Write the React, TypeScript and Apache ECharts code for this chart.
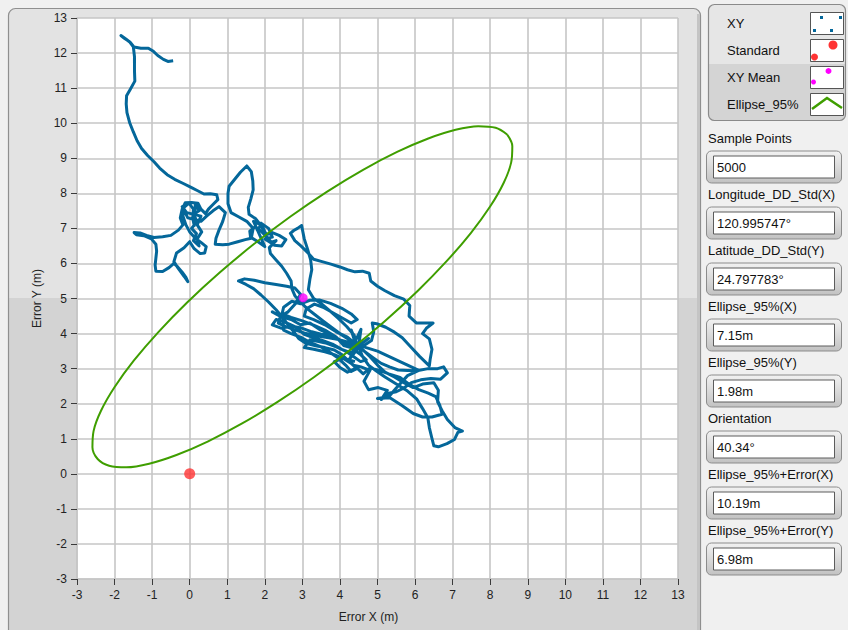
import React, { useEffect, useRef } from 'react';
import * as echarts from 'echarts';

// ---- data ----
const trajectory: number[][] = [
  [-0.44, 11.78], [-0.58, 11.76], [-0.7, 11.82], [-0.85, 11.93], [-0.98, 12.06], [-1.1, 12.14], [-1.3, 12.14], [-1.48, 12.17],
  [-1.58, 12.3], [-1.7, 12.4], [-1.83, 12.5], [-1.74, 12.42], [-1.6, 12.32], [-1.5, 12.18], [-1.47, 11.9], [-1.47, 11.5],
  [-1.46, 11.2], [-1.58, 10.97], [-1.68, 10.78], [-1.69, 10.55], [-1.67, 10.3], [-1.6, 10.02], [-1.5, 9.75], [-1.4, 9.5],
  [-1.28, 9.28], [-1.12, 9.08], [-0.95, 8.9], [-0.8, 8.72], [-0.6, 8.53], [-0.4, 8.4], [-0.17, 8.28], [0.05, 8.16],
  [0.2, 8.08], [0.38, 7.98], [0.55, 7.99], [0.72, 7.96], [0.75, 7.82], [0.62, 7.68], [0.5, 7.55], [0.42, 7.42],
  [0.3, 7.55], [0.22, 7.72], [0.05, 7.74], [-0.12, 7.73], [-0.2, 7.55], [-0.25, 7.3], [-0.18, 7.1], [-0.3, 6.95],
  [-0.5, 6.8], [-0.72, 6.76], [-0.95, 6.74], [-1.15, 6.8], [-1.32, 6.87], [-1.48, 6.88], [-1.42, 6.82], [-1.22, 6.79],
  [-1.02, 6.7], [-0.9, 6.55], [-0.88, 6.35], [-0.9, 6.15], [-0.92, 5.95], [-0.9, 5.78], [-0.72, 5.77], [-0.55, 5.88],
  [-0.42, 6.0], [-0.32, 5.9], [-0.2, 5.75], [-0.1, 5.6], [-0.05, 5.48], [-0.14, 5.62], [-0.3, 5.85], [-0.42, 6.05],
  [-0.35, 6.3], [-0.15, 6.45], [0.0, 6.62], [0.12, 6.42], [0.28, 6.28], [0.4, 6.3], [0.44, 6.48], [0.3, 6.6],
  [0.15, 6.72], [0.0, 6.9], [-0.1, 7.1], [-0.18, 7.35], [-0.15, 7.6], [-0.02, 7.72], [0.1, 7.55], [0.08, 7.3], [0.12, 7.08],
  [0.15, 7.7], [0.25, 7.5], [0.1, 7.4], [0.2, 7.2], [0.05, 7.0], [0.18, 6.85], [0.1, 6.65], [0.25, 6.5],
  [0.2, 6.7], [0.32, 6.9], [0.2, 7.1], [0.3, 7.35], [-0.08, 7.45], [-0.2, 7.62], [-0.05, 7.3],
  [0.3, 7.2], [0.45, 7.35], [0.62, 7.5], [0.78, 7.62], [0.95, 7.45], [0.88, 7.2], [0.78, 6.95], [0.7, 6.72],
  [0.68, 6.55], [0.88, 6.53], [1.05, 6.55], [1.28, 6.62], [1.48, 6.68], [1.64, 6.72], [1.69, 7.0], [1.52, 7.2],
  [1.3, 7.33], [1.1, 7.45], [1.02, 7.7], [1.02, 8.0], [1.05, 8.2], [1.2, 8.4], [1.35, 8.6], [1.52, 8.78],
  [1.64, 8.62], [1.68, 8.35], [1.69, 8.1], [1.63, 7.85], [1.56, 7.6], [1.58, 7.4], [1.75, 7.28], [1.85, 7.15],
  [1.95, 6.98], [2.05, 6.82], [2.2, 6.88], [2.38, 6.8], [2.56, 6.68], [2.45, 6.5], [2.25, 6.52], [2.1, 6.7],
  [1.92, 6.9], [1.75, 7.05], [1.6, 6.92], [1.62, 6.75], [1.82, 6.62], [2.0, 6.48],
  [1.7, 7.2], [1.9, 7.1], [1.8, 6.95], [2.0, 6.9], [1.9, 7.15], [2.1, 7.0], [2.2, 6.75], [2.0, 6.7],
  [2.15, 6.6], [2.3, 6.65], [2.12, 6.45],
  [2.15, 6.28], [2.3, 6.1], [2.45, 5.92], [2.58, 5.72], [2.7, 5.5], [2.72, 5.28], [2.8, 5.08], [2.95, 4.9],
  [3.12, 4.72], [3.32, 4.55], [3.55, 4.36], [3.8, 4.16], [4.05, 3.96], [4.28, 3.8], [4.45, 3.68], [4.58, 3.55],
  [4.72, 3.44], [4.9, 3.3], [5.1, 3.15], [5.32, 3.05], [5.55, 2.96], [5.8, 2.95], [6.05, 2.94], [6.35, 3.0],
  [6.6, 3.0], [6.76, 3.05], [6.86, 2.88], [6.68, 2.7], [6.42, 2.72], [6.15, 2.68], [5.9, 2.6], [5.72, 2.46],
  [5.5, 2.34], [5.3, 2.3], [5.1, 2.12], [5.26, 2.38], [5.02, 2.46], [4.76, 2.4], [4.64, 2.64], [4.8, 2.95],
  [4.56, 3.05], [4.36, 3.1], [4.2, 3.25], [4.05, 3.4], [3.85, 3.53], [3.6, 3.6], [3.35, 3.65], [3.1, 3.72],
  [2.9, 3.86], [2.75, 4.08], [2.6, 4.28], [2.48, 4.45],
  [2.2, 4.62], [2.45, 4.48], [2.7, 4.4], [2.95, 4.25], [3.2, 4.3], [3.45, 4.12], [3.7, 4.0], [3.95, 3.85],
  [4.2, 3.68], [4.45, 3.62], [4.3, 3.45], [4.05, 3.55], [3.8, 3.7], [3.55, 3.8], [3.3, 3.88], [3.05, 3.98],
  [2.8, 4.2], [2.55, 4.32], [2.3, 4.4], [2.2, 4.25], [2.45, 4.15], [2.7, 4.22], [3.0, 4.15], [3.25, 4.05],
  [3.5, 3.98], [3.8, 3.95], [4.1, 3.75], [4.35, 3.55], [4.55, 3.4], [4.7, 3.25], [4.55, 3.2], [4.35, 3.35],
  [4.15, 3.5], [3.9, 3.62], [3.65, 3.72], [3.4, 3.78], [3.2, 3.82], [3.05, 3.6], [3.3, 3.55], [3.6, 3.48],
  [3.85, 3.4], [4.1, 3.28], [4.3, 3.15], [4.45, 3.0], [4.3, 2.92], [4.15, 3.1], [3.95, 3.3], [3.75, 3.45],
  [3.5, 3.62], [3.2, 3.75], [2.95, 3.9], [2.7, 4.0], [2.5, 4.1], [2.48, 4.45],
  [2.3, 4.68], [2.1, 4.9], [1.9, 5.1], [1.7, 5.28], [1.5, 5.4], [1.3, 5.5], [1.46, 5.56], [1.72, 5.52],
  [2.0, 5.45], [2.3, 5.4], [2.58, 5.35], [2.8, 5.3], [2.95, 5.12], [2.82, 4.86], [2.62, 4.62], [2.42, 4.5],
  [2.36, 4.3], [2.56, 4.2], [2.82, 4.1], [3.1, 4.0], [3.4, 3.93], [3.7, 3.88], [4.0, 3.82], [4.25, 3.75], [4.45, 3.7],
  [4.38, 3.95], [4.18, 4.2], [3.95, 4.44], [3.74, 4.64], [3.52, 4.84], [3.3, 5.0], [3.16, 5.25], [3.2, 5.55],
  [3.25, 5.82], [3.22, 6.1], [3.14, 6.4], [3.05, 6.7], [2.98, 7.08], [2.87, 7.0], [2.77, 6.94], [2.68, 6.86],
  [2.8, 6.65], [2.96, 6.5], [3.15, 6.3], [3.3, 6.12], [3.5, 6.06], [3.76, 5.98], [4.0, 5.9], [4.2, 5.82],
  [4.4, 5.76], [4.6, 5.78], [4.78, 5.72], [4.82, 5.5], [5.0, 5.35], [5.2, 5.22], [5.45, 5.08], [5.7, 4.98],
  [5.86, 4.8], [5.84, 4.5], [6.04, 4.3], [6.28, 4.3], [6.48, 4.3], [6.3, 4.15], [6.2, 4.0], [6.38, 3.85],
  [6.45, 3.55], [6.4, 3.25], [6.38, 3.08], [6.12, 3.35], [5.9, 3.6], [5.66, 3.88], [5.45, 4.04], [5.22, 4.18],
  [4.98, 4.28], [4.86, 4.3], [4.9, 4.05], [4.84, 3.8], [4.64, 3.66], [4.46, 3.72],
  [4.6, 3.35], [4.76, 3.1], [4.96, 2.94], [5.2, 2.76], [5.5, 2.56], [5.8, 2.36], [6.04, 2.14], [6.2, 1.86],
  [6.34, 1.6], [6.38, 1.32], [6.44, 1.05], [6.5, 0.8], [6.62, 0.77], [6.85, 0.86], [7.05, 0.98], [7.14, 1.18],
  [7.26, 1.22], [7.06, 1.32], [6.86, 1.55], [6.72, 1.8], [6.6, 2.05], [6.62, 2.38], [6.5, 2.6], [6.2, 2.56],
  [5.95, 2.46], [5.7, 2.6], [5.45, 2.76], [5.2, 2.9], [5.0, 3.1], [4.8, 3.34], [4.6, 3.55], [4.45, 3.72],
  [4.3, 4.1], [4.4, 3.76], [4.56, 4.12], [4.5, 3.66], [4.76, 3.86], [4.42, 3.6], [4.26, 3.28], [4.46, 3.55],
  [4.1, 3.66], [3.9, 3.9], [3.6, 4.1], [3.3, 4.24], [3.0, 4.36], [2.7, 4.46], [2.46, 4.56], [2.5, 4.75],
  [2.72, 4.92], [2.95, 4.85],
  [3.2, 4.95], [3.45, 4.96], [3.75, 4.86], [4.05, 4.72], [4.3, 4.56], [4.46, 4.4], [4.3, 4.3], [4.05, 4.45],
  [3.8, 4.6], [3.55, 4.75], [3.32, 4.84], [3.1, 4.7], [3.05, 4.5], [3.3, 4.4], [3.6, 4.25], [3.9, 4.05],
  [4.2, 3.9], [4.4, 3.72], [4.7, 3.6], [5.0, 3.5], [5.3, 3.35], [5.6, 3.2], [5.9, 3.05], [6.1, 2.95],
  [5.8, 2.8], [5.5, 2.45], [5.3, 2.2], [5.0, 2.15], [5.33, 2.17], [5.65, 1.95], [5.95, 1.72], [6.2, 1.62],
  [6.45, 1.62], [6.72, 1.7], [6.66, 1.95], [6.55, 2.2], [6.35, 2.3], [6.1, 2.4], [5.85, 2.55], [5.6, 2.75],
  [5.3, 2.85], [5.05, 2.95], [4.8, 3.02], [4.62, 2.85], [4.45, 3.02], [4.2, 2.9], [4.0, 3.03], [3.85, 3.2],
  [4.1, 3.3], [4.4, 3.2],
];

const ellipse95: number[][] = [
  [8.45, 9.677], [8.145, 9.869], [7.683, 9.914], [7.079, 9.812], [6.352, 9.564], [5.522, 9.18], [4.616, 8.671],
  [3.66, 8.05], [2.684, 7.339], [1.719, 6.559], [0.792, 5.733], [-0.068, 4.886], [-0.834, 4.043], [-1.484, 3.232],
  [-1.998, 2.476], [-2.361, 1.798], [-2.559, 1.218], [-2.589, 0.755], [-2.45, 0.423], [-2.145, 0.231], [-1.683, 0.186],
  [-1.079, 0.288], [-0.352, 0.536], [0.478, 0.92], [1.384, 1.429], [2.34, 2.05], [3.316, 2.761], [4.281, 3.541],
  [5.208, 4.367], [6.068, 5.214], [6.834, 6.057], [7.484, 6.868], [7.998, 7.624], [8.361, 8.302], [8.559, 8.882],
  [8.589, 9.345], [8.45, 9.677],
];

const xyMean: number[][] = [[3.02, 5.02]];
const standardPoint: number[][] = [[0, 0]];

const legendNames = ['XY', 'Standard', 'XY Mean', 'Ellipse_95%'];
const infoLabels = [
  'Sample Points', 'Longitude_DD_Std(X)', 'Latitude_DD_Std(Y)', 'Ellipse_95%(X)',
  'Ellipse_95%(Y)', 'Orientation', 'Ellipse_95%+Error(X)', 'Ellipse_95%+Error(Y)',
];
const infoValues = ['5000', '120.995747°', '24.797783°', '7.15m', '1.98m', '40.34°', '10.19m', '6.98m'];

const FONT = '"Liberation Sans", Arial, sans-serif';
const BLUE = '#04679a';
const GREEN = '#3f9e00';

function splitGrad(a: string, b: string, at: number) {
  return new echarts.graphic.LinearGradient(0, 0, 0, 1, [
    { offset: 0, color: a }, { offset: at, color: a }, { offset: at, color: b }, { offset: 1, color: b },
  ]);
}

export default function App() {
  const ref = useRef<HTMLDivElement>(null);
  useEffect(() => {
    if (!ref.current) return;
    const chart = echarts.init(ref.current, undefined, { renderer: 'svg' });

    const graphics: any[] = [];
    // graph panel
    graphics.push({
      type: 'rect', z: -10, shape: { x: 8.5, y: 8.5, width: 692, height: 630, r: 7 },
      style: { fill: splitGrad('#e3e3e3', '#d3d3d3', 0.46), stroke: '#8f8f8f', lineWidth: 1.2 },
    });
    graphics.push({
      type: 'rect', z: -9, shape: { x: 697, y: 14, width: 3, height: 630 },
      style: { fill: '#c4c4c4' },
    });
    // legend box
    graphics.push({
      type: 'rect', z: 10, shape: { x: 708.5, y: 4.5, width: 137, height: 116, r: 6 },
      style: { fill: splitGrad('#e6e6e6', '#d4d4d4', 0.51), stroke: '#8a8a8a', lineWidth: 1.2 },
    });
    const rowY = [23, 50, 77, 104];
    legendNames.forEach((n, i) => {
      graphics.push({
        type: 'text', z: 11, x: 727, y: rowY[i],
        style: { text: n, fontSize: 13, fontFamily: FONT, fill: '#111', verticalAlign: 'middle' },
      });
      graphics.push({
        type: 'rect', z: 11, shape: { x: 810.5, y: rowY[i] - 10.5, width: 33, height: 22 },
        style: { fill: '#fff', stroke: '#555', lineWidth: 1 },
      });
    });
    // legend icons
    [[820, 16], [839, 16], [813, 29], [830, 29]].forEach(([x, y]) => {
      graphics.push({ type: 'rect', z: 12, shape: { x, y, width: 3, height: 3 }, style: { fill: BLUE } });
    });
    graphics.push({ type: 'circle', z: 12, shape: { cx: 833, cy: 45, r: 4.5 }, style: { fill: '#ff3333' } });
    graphics.push({ type: 'circle', z: 12, shape: { cx: 814.5, cy: 57, r: 3.5 }, style: { fill: '#ff3333' } });
    graphics.push({ type: 'circle', z: 12, shape: { cx: 828.5, cy: 71, r: 3 }, style: { fill: '#ff00ff' } });
    graphics.push({ type: 'circle', z: 12, shape: { cx: 813.5, cy: 82, r: 2.5 }, style: { fill: '#ff00ff' } });
    graphics.push({
      type: 'polyline', z: 12, shape: { points: [[812, 109], [827, 98], [842, 108]] },
      style: { stroke: GREEN, lineWidth: 2.5, fill: 'none' },
    });

    // info controls
    infoLabels.forEach((lab, i) => {
      const ly = 138 + i * 56;
      const by = 167 + i * 56;
      graphics.push({
        type: 'text', z: 10, x: 708, y: ly,
        style: { text: lab, fontSize: 13, fontFamily: FONT, fill: '#111', verticalAlign: 'middle' },
      });
      graphics.push({
        type: 'rect', z: 10, shape: { x: 706.5, y: by - 16, width: 135, height: 32, r: 5 },
        style: {
          fill: new echarts.graphic.LinearGradient(0, 0, 0, 1, [
            { offset: 0, color: '#f2f2f2' }, { offset: 1, color: '#c2c2c2' },
          ]),
          stroke: '#8c8c8c', lineWidth: 1,
        },
      });
      graphics.push({
        type: 'rect', z: 11, shape: { x: 713.5, y: by - 11, width: 121, height: 22 },
        style: { fill: '#fff', stroke: '#5c5c5c', lineWidth: 1 },
      });
      graphics.push({
        type: 'text', z: 12, x: 717, y: by,
        style: { text: infoValues[i], fontSize: 13, fontFamily: FONT, fill: '#111', verticalAlign: 'middle' },
      });
    });

    const axisCommon = {
      type: 'value' as const,
      min: -3, max: 13, interval: 1,
      splitLine: { show: true, lineStyle: { color: '#c6c6c6', width: 1.6 } },
      axisLine: { show: true, onZero: false, lineStyle: { color: '#c6c6c6', width: 1.6 } },
      axisTick: { show: true, length: 6, lineStyle: { color: '#3a3a3a', width: 1 } },
    };

    chart.setOption({
      animation: false,
      backgroundColor: '#f0f0f0',
      grid: { left: 77, top: 18, width: 601, height: 561, show: true, backgroundColor: '#ffffff', borderWidth: 0 },
      xAxis: {
        ...axisCommon,
        name: 'Error X (m)', nameLocation: 'middle', nameGap: 32,
        nameTextStyle: { fontSize: 12, fontFamily: FONT, color: '#222', padding: [0, 18, 0, 0] },
        axisLabel: { fontSize: 12, fontFamily: FONT, color: '#222', margin: 10 },
      },
      yAxis: {
        ...axisCommon,
        name: 'Error Y (m)', nameLocation: 'middle', nameGap: 25,
        nameTextStyle: { fontSize: 12, fontFamily: FONT, color: '#222' },
        axisLabel: { fontSize: 12, fontFamily: FONT, color: '#222', margin: 10 },
      },
      graphic: { elements: graphics },
      series: [
        {
          name: 'XY', type: 'line', data: trajectory, showSymbol: false, symbol: 'none',
          lineStyle: { color: BLUE, width: 3, join: 'round' }, z: 2,
        },
        {
          name: 'Ellipse_95%', type: 'line', data: ellipse95, showSymbol: false, symbol: 'none', smooth: 0.35,
          lineStyle: { color: GREEN, width: 2 }, z: 3,
        },
        {
          name: 'Standard', type: 'scatter', data: standardPoint, symbolSize: 11,
          itemStyle: { color: '#ff3333' }, z: 4,
        },
        {
          name: 'XY Mean', type: 'scatter', data: xyMean, symbolSize: 9,
          itemStyle: { color: '#ff00ff' }, z: 4,
        },
      ],
    });
    return () => chart.dispose();
  }, []);
  return <div ref={ref} style={{ position: 'absolute', left: 0, top: 0, width: 848, height: 630 }} />;
}
